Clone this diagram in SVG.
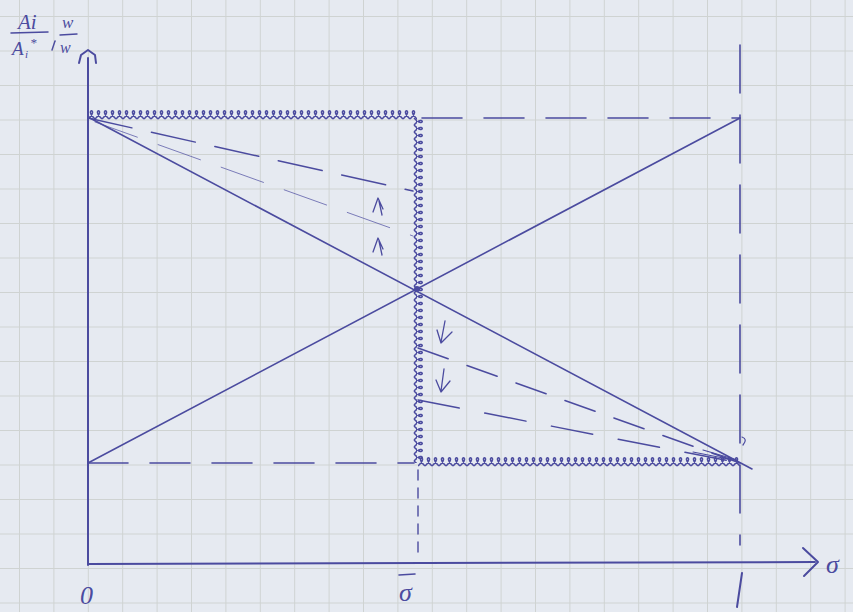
<svg xmlns="http://www.w3.org/2000/svg" width="853" height="612" viewBox="0 0 853 612">
<style>
.pen{stroke:#4b4b9f;fill:none;stroke-linecap:round;stroke-linejoin:round}
.ax{stroke-width:2}
.thin{stroke-width:1.6}
.dash{stroke-width:1.6;stroke-dasharray:40 22}
.lbl{font-family:"Liberation Serif",serif;fill:#4b4b9f;font-style:italic}
</style>
<defs>
<pattern id="grid" patternUnits="userSpaceOnUse" x="19" y="16" width="34.4" height="34.5">
<path d="M0,0.5H34.4M0.5,0V34.5" stroke="#cfd3d2" stroke-width="1" fill="none"/>
</pattern>
<pattern id="loop" patternUnits="userSpaceOnUse" x="0" y="0" width="7" height="12">
<path d="M0,10 c12,-11 -5,-11 7,0" stroke="#4b4b9f" stroke-width="1.5" fill="none"/>
</pattern>
</defs>
<rect width="853" height="612" fill="#e6eaf1"/>
<rect width="853" height="612" fill="url(#grid)"/>

<g id="axes">
<path class="pen ax" d="M88,565 V58"/>
<path class="pen ax" d="M79,63 L81,55 L88,50 L95,55 L96,63"/>
<path class="pen ax" d="M88,564 L815,562"/>
<path class="pen ax" d="M803,548 L818,562 L804,576"/>
</g>

<g id="guides">
<path class="pen dash" d="M422,118 H740"/>
<path class="pen dash" d="M88,463 H414"/>
<path class="pen" stroke-width="1.6" stroke-dasharray="48 22" d="M740,45 V545"/>
<path class="pen" stroke-width="1.4" stroke-dasharray="10 8" d="M418,470 V560"/>
</g>

<g id="curly">
<rect width="329" height="12" transform="translate(88,109)" fill="url(#loop)"/>
<rect width="345" height="12" transform="translate(424,118) rotate(90)" fill="url(#loop)"/>
<rect width="322" height="12" transform="translate(418,456)" fill="url(#loop)"/>
</g>

<g id="diagonals">
<path class="pen thin" d="M88,117 L752,469"/>
<path class="pen thin" d="M88,463 L740,118"/>
<circle cx="417" cy="289" r="3" fill="#4b4b9f"/>
</g>

<g id="fan-upper">
<path class="pen" stroke-width="1.5" stroke-dasharray="45 20" d="M88,118 L413,191"/>
<path class="pen" stroke-width="1" stroke-opacity="0.7" stroke-dasharray="45 22" d="M95,122 L413,236"/>
<path class="pen" stroke-width="1.3" d="M373,212 L378,198 L383,209 M379,201 L382,215"/>
<path class="pen" stroke-width="1.3" d="M373,252 L378,238 L383,249 M379,241 L382,255"/>
</g>

<g id="fan-lower">
<path class="pen" stroke-width="1.5" stroke-dasharray="32 20" d="M418,348 L740,463"/>
<path class="pen" stroke-width="1.5" stroke-dasharray="42 26" d="M418,400 L740,463"/>
<path class="pen" stroke-width="1.2" d="M693,452 L733,460 M703,450 L737,460"/>
<path class="pen" stroke-width="1.3" d="M445,321 L441,342 M437,330 L441,343 L452,332"/>
<path class="pen" stroke-width="1.3" d="M444,369 L441,391 M436,380 L441,392 L450,381"/>
<path class="pen" stroke-width="1.2" d="M742,437 q6,2 1,8"/>
</g>

<g id="labels">
<text class="lbl" x="18" y="29" font-size="21">Ai</text>
<path class="pen" stroke-width="1.5" d="M11,33 L48,32"/>
<text class="lbl" x="12" y="55" font-size="19">A</text>
<text class="lbl" x="25" y="58" font-size="11">i</text>
<text class="lbl" x="30" y="47" font-size="13">*</text>
<path class="pen" stroke-width="1.4" d="M55,41 L52,50"/>
<text class="lbl" x="62" y="28" font-size="17">w</text>
<path class="pen" stroke-width="1.4" d="M60,35 L77,34"/>
<text class="lbl" x="60" y="53" font-size="16">w</text>
<text class="lbl" x="80" y="604" font-size="26">0</text>
<path class="pen" stroke-width="1.6" d="M399,575 L415,574"/>
<text class="lbl" x="399" y="601" font-size="26">σ</text>
<path class="pen" stroke-width="2" d="M742,573 L737,607"/>
<text class="lbl" x="826" y="573" font-size="26">σ</text>
</g>
</svg>
